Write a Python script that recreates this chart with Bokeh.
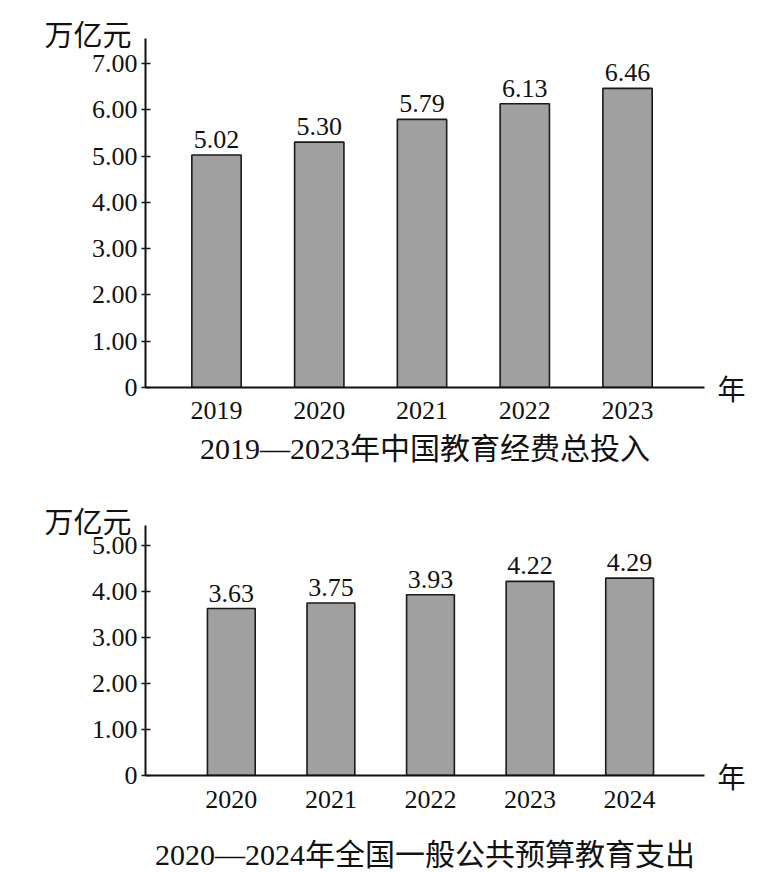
from bokeh.plotting import figure
from bokeh.models import (Range1d, FixedTicker, LabelSet, ColumnDataSource,
                          LinearAxis, Title)
from bokeh.layouts import column
from bokeh.embed import file_html
from bokeh.resources import INLINE
from bokeh.core.properties import value

# ---- data ----
years_1 = ["2019", "2020", "2021", "2022", "2023"]
values_1 = [5.02, 5.30, 5.79, 6.13, 6.46]
value_labels_1 = ["5.02", "5.30", "5.79", "6.13", "6.46"]
y_ticks_1 = [0, 1, 2, 3, 4, 5, 6, 7]
y_tick_labels_1 = ["0", "1.00", "2.00", "3.00", "4.00", "5.00", "6.00", "7.00"]
title_1 = "2019—2023年中国教育经费总投入"

years_2 = ["2020", "2021", "2022", "2023", "2024"]
values_2 = [3.63, 3.75, 3.93, 4.22, 4.29]
value_labels_2 = ["3.63", "3.75", "3.93", "4.22", "4.29"]
y_ticks_2 = [0, 1, 2, 3, 4, 5]
y_tick_labels_2 = ["0", "1.00", "2.00", "3.00", "4.00", "5.00"]
title_2 = "2020—2024年全国一般公共预算教育支出"

y_unit = "万亿元"
x_unit = "年"

SERIF = "'Liberation Serif', 'Noto Sans CJK SC'"
CJK = "'Noto Sans CJK SC'"
INK = "#111111"


def make_chart(years, vals, vlabels, yticks, yticklabels, title,
               height, top, bottom, x_start, x_end, y_end,
               tick_standoff, title_standoff, unit_standoff):
    p = figure(width=771, height=height, output_backend="svg",
               toolbar_location=None,
               x_range=Range1d(x_start, x_end), y_range=Range1d(0, y_end),
               min_border_left=145, min_border_right=67,
               min_border_top=top, min_border_bottom=bottom)
    p.outline_line_color = None
    p.xgrid.visible = False
    p.ygrid.visible = False

    idx = list(range(len(years)))
    src = ColumnDataSource(dict(x=idx, top=vals, lab=vlabels))
    p.vbar(x="x", top="top", width=0.48, source=src,
           fill_color="#a0a0a0", line_color="#1a1a1a", line_width=1.6)

    p.add_layout(LabelSet(x="x", y="top", text="lab", source=src,
                          text_font=value("Liberation Serif"),
                          text_font_size="26px", text_color=INK,
                          text_align="center", text_baseline="alphabetic",
                          y_offset=7))

    # x axis with categories and chart caption
    xa = p.xaxis[0]
    xa.ticker = FixedTicker(ticks=idx)
    xa.major_label_overrides = {i: y for i, y in zip(idx, years)}
    xa.major_tick_line_color = None
    xa.minor_tick_line_color = None
    xa.axis_line_color = INK
    xa.axis_line_width = 2
    xa.major_label_text_font = SERIF
    xa.major_label_text_font_size = "26px"
    xa.major_label_text_color = INK
    xa.major_label_standoff = tick_standoff
    xa.axis_label = title
    xa.axis_label_text_font = SERIF
    xa.axis_label_text_font_size = "30px"
    xa.axis_label_text_font_style = "normal"
    xa.axis_label_text_color = INK
    xa.axis_label_standoff = title_standoff

    # y axis
    ya = p.yaxis[0]
    ya.ticker = FixedTicker(ticks=yticks)
    ya.major_label_overrides = {t: l for t, l in zip(yticks, yticklabels)}
    ya.minor_tick_line_color = None
    ya.major_tick_in = 5
    ya.major_tick_out = 4
    ya.major_tick_line_color = INK
    ya.major_tick_line_width = 1.5
    ya.axis_line_color = INK
    ya.axis_line_width = 2
    ya.major_label_text_font = SERIF
    ya.major_label_text_font_size = "26px"
    ya.major_label_text_color = INK
    ya.major_label_standoff = 4

    # "年" at the end of the x axis (right-hand axis with one tick at 0)
    ra = LinearAxis(ticker=FixedTicker(ticks=[0]),
                    major_label_overrides={0: x_unit})
    ra.axis_line_color = None
    ra.major_tick_line_color = None
    ra.minor_tick_line_color = None
    ra.major_label_standoff = 7
    ra.major_label_text_font = CJK
    ra.major_label_text_font_size = "28px"
    ra.major_label_text_color = INK
    p.add_layout(ra, "right")

    # unit "万亿元" above the y axis
    p.add_layout(Title(text=y_unit, align="left", offset=-101,
                       vertical_align="bottom", standoff=unit_standoff,
                       text_font=CJK, text_font_size="29px",
                       text_font_style="normal", text_color=INK), "above")
    return p


p1 = make_chart(years_1, values_1, value_labels_1, y_ticks_1, y_tick_labels_1,
                title_1, height=476, top=38, bottom=89,
                x_start=-0.691, x_end=4.749, y_end=349 / 46.3,
                tick_standoff=8, title_standoff=10, unit_standoff=-30)
p2 = make_chart(years_2, values_2, value_labels_2, y_ticks_2, y_tick_labels_2,
                title_2, height=397, top=49, bottom=98,
                x_start=-0.862, x_end=4.752, y_end=250 / 46.0,
                tick_standoff=9, title_standoff=27, unit_standoff=-30)

layout = column(p1, p2, spacing=0)
open("out.html", "w").write(file_html(layout, INLINE))
